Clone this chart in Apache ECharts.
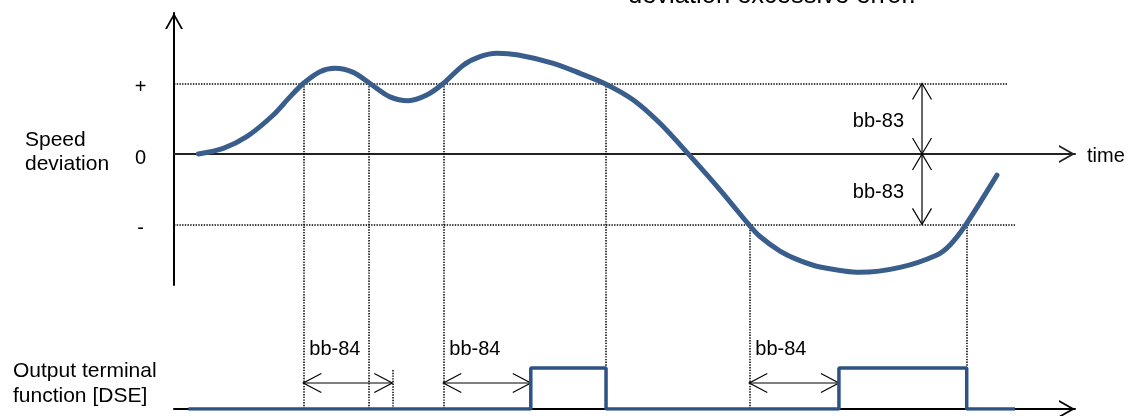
<!DOCTYPE html>
<html>
<head>
<meta charset="utf-8">
<script src="https://cdn.jsdelivr.net/npm/echarts@6.0.0/dist/echarts.min.js"></script>
<style>
  html, body { margin: 0; padding: 0; background: #fff; }
  #chart { width: 1132px; height: 416px; }
</style>
</head>
<body>
<div id="chart"></div>
<script>
// speed deviation curve (time units, deviation in units of bb-83)
const curveT = [2.70, 5.47, 8.07, 11.02, 12.87, 14.35, 16.20, 17.87, 19.90, 21.75, 23.97, 26.0, 28.05,
  29.89, 32.11, 33.96, 35.82, 38.21, 42.10, 45.06, 47.95, 50.98, 53.94, 57.08, 60.6, 63.78, 65.04,
  67.26, 69.48, 71.70, 76.14, 80.58, 84.68, 86.13, 87.79, 91.34];
const curveV = [0, 0.08, 0.245, 0.553, 0.81, 1.0, 1.167, 1.215, 1.158, 1.0, 0.81, 0.755, 0.836,
  1.0, 1.26, 1.38, 1.428, 1.404, 1.286, 1.144, 0.99, 0.766, 0.435, 0, -0.51, -1.0, -1.172,
  -1.378, -1.515, -1.604, -1.68, -1.61, -1.434, -1.292, -1.022, -0.3];

// DSE output (step changes)
const dseT = [1.59, 39.6, 47.95, 73.8, 87.98, 93.34];
const dseLevel = [0, 1, 0, 1, 0, 0];

// where the curve crosses the thresholds
const plusCross = [14.35, 21.64, 29.89, 47.95];
const minusCross = [63.85, 87.98];

// bb-84 delay timers
const bb84Start = [14.35, 29.89, 63.85];
const bb84End = [24.23, 39.6, 73.8];

const bb83Time = 83.02;
const thresholdEnd = [92.53, 93.34]; // + line, - line
const tickValues = [-1, 0, 1];
const tickLabels = ['-', '0', '+'];

const FONT = '"Liberation Sans", Arial, sans-serif';
const CHEVRON = 'path://M0,16L9,0L18,16L16,16L9,3.56L2,16Z';
const dotted = { color: '#000', width: 1.5, type: [1.4, 1.3] };
const thin = { stroke: '#000', lineWidth: 1.2, fill: null };

function chevron(tip, dx, dy, len, half) {
  return [
    [tip[0] - dx * len - dy * half, tip[1] - dy * len + dx * half],
    [tip[0], tip[1]],
    [tip[0] - dx * len + dy * half, tip[1] - dy * len - dx * half]
  ];
}

const topGuides = [
  [{ coord: [0, 1] }, { coord: [thresholdEnd[0], 1] }],
  [{ coord: [0, -1] }, { coord: [thresholdEnd[1], -1] }]
];
plusCross.forEach(t => topGuides.push([{ coord: [t, 1] }, { coord: [t, -1.86] }]));
minusCross.forEach(t => topGuides.push([{ coord: [t, -1] }, { coord: [t, -1.86] }]));

const bottomGuides = [];
plusCross.concat(minusCross).forEach(t => bottomGuides.push([{ coord: [t, 3] }, { coord: [t, 0] }]));
bottomGuides.push([{ coord: [bb84End[0], 0.95] }, { coord: [bb84End[0], 0] }]);

const arrowAxisLine = (color) => ({
  show: true,
  onZero: true,
  symbol: ['none', CHEVRON],
  symbolSize: [18, 16],
  symbolOffset: [0, -8],
  lineStyle: { color: color, width: 2 }
});

const option = {
  animation: false,
  grid: [
    { left: 174, right: 57, top: 13, height: 272 },
    { left: 174, right: 57, top: 286, height: 123 }
  ],
  xAxis: [
    { gridIndex: 0, type: 'value', min: 0, max: 100, axisLine: arrowAxisLine('#222'),
      axisTick: { show: false }, axisLabel: { show: false }, splitLine: { show: false } },
    { gridIndex: 1, type: 'value', min: 0, max: 100, axisLine: arrowAxisLine('#000'),
      axisTick: { show: false }, axisLabel: { show: false }, splitLine: { show: false } }
  ],
  yAxis: [
    { gridIndex: 0, type: 'value', min: -1.86, max: 2,
      axisLine: Object.assign(arrowAxisLine('#000'), { onZero: false }),
      axisTick: { show: false }, splitLine: { show: false },
      axisLabel: {
        show: true, customValues: tickValues, align: 'center', margin: 33.5,
        verticalAlign: 'top', lineHeight: 9,
        fontSize: 20, fontFamily: FONT, color: '#000',
        formatter: v => tickLabels[tickValues.indexOf(Math.round(v))]
      } },
    { gridIndex: 1, type: 'value', min: 0, max: 3, show: false }
  ],
  graphic: [
    { type: 'text', x: 628, y: -4, style: { text: 'deviation excessive error.', font: '25.5px ' + FONT, fill: '#000', verticalAlign: 'middle' } },
    { type: 'text', x: 25, y: 152, style: { text: 'Speed\ndeviation', font: '21px ' + FONT, fill: '#000', verticalAlign: 'middle', lineHeight: 24 } },
    { type: 'text', x: 13, y: 384, style: { text: 'Output terminal\nfunction [DSE]', font: '21px ' + FONT, fill: '#000', verticalAlign: 'middle', lineHeight: 25 } },
    { type: 'text', x: 1087, y: 156, style: { text: 'time', font: '20px ' + FONT, fill: '#000', verticalAlign: 'middle' } }
  ],
  series: [
    {
      name: 'Speed deviation',
      type: 'line',
      xAxisIndex: 0, yAxisIndex: 0,
      data: curveT.map((t, i) => [t, curveV[i]]),
      smooth: 0.3,
      showSymbol: false,
      silent: true,
      z: 5,
      lineStyle: { color: '#3a5e8c', width: 5, cap: 'round' },
      markLine: { silent: true, symbol: 'none', label: { show: false }, lineStyle: dotted, data: topGuides }
    },
    {
      name: 'DSE',
      type: 'line',
      xAxisIndex: 1, yAxisIndex: 1,
      data: dseT.map((t, i) => [t, dseLevel[i]]),
      step: 'end',
      showSymbol: false,
      silent: true,
      z: 5,
      lineStyle: { color: '#2c5384', width: 3.5 },
      markLine: { silent: true, symbol: 'none', label: { show: false }, lineStyle: dotted, data: bottomGuides }
    },
    {
      name: 'bb-84',
      type: 'custom',
      xAxisIndex: 1, yAxisIndex: 1,
      silent: true,
      data: bb84Start.map((s, i) => [s, bb84End[i]]),
      renderItem: (params, api) => {
        const a = api.coord([api.value(0), 0.634]);
        const b = api.coord([api.value(1), 0.634]);
        return {
          type: 'group',
          children: [
            { type: 'line', shape: { x1: a[0], y1: a[1], x2: b[0], y2: b[1] }, style: thin },
            { type: 'polyline', shape: { points: chevron(a, -1, 0, 18, 9.5) }, style: thin },
            { type: 'polyline', shape: { points: chevron(b, 1, 0, 18, 9.5) }, style: thin },
            { type: 'text', style: { text: 'bb-84', x: a[0] + 6, y: a[1] - 34, font: '20px ' + FONT, fill: '#000', verticalAlign: 'middle' } }
          ]
        };
      }
    },
    {
      name: 'bb-83',
      type: 'custom',
      xAxisIndex: 0, yAxisIndex: 0,
      silent: true,
      data: [[bb83Time, 0, 1], [bb83Time, 0, -1]],
      renderItem: (params, api) => {
        const a = api.coord([api.value(0), api.value(1)]);
        const b = api.coord([api.value(0), api.value(2)]);
        const d = b[1] > a[1] ? 1 : -1;
        return {
          type: 'group',
          children: [
            { type: 'line', shape: { x1: a[0], y1: a[1], x2: b[0], y2: b[1] }, style: thin },
            { type: 'polyline', shape: { points: chevron(a, 0, -d, 16, 9.5) }, style: thin },
            { type: 'polyline', shape: { points: chevron(b, 0, d, 16, 9.5) }, style: thin },
            { type: 'text', style: { text: 'bb-83', x: a[0] - 18, y: (a[1] + b[1]) / 2 + 3, font: '20px ' + FONT, fill: '#000', align: 'right', verticalAlign: 'middle' } }
          ]
        };
      }
    }
  ]
};

const chart = echarts.init(document.getElementById('chart'), null, { renderer: 'canvas' });
chart.setOption(option);
</script>
</body>
</html>
